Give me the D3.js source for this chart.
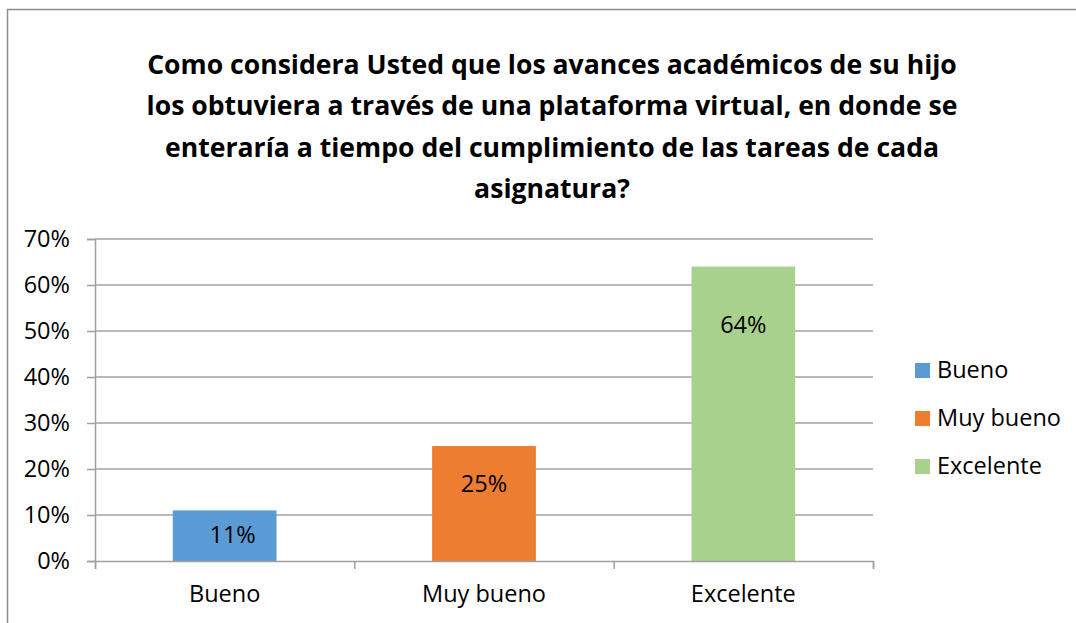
<!DOCTYPE html>
<html>
<head>
<meta charset="utf-8">
<script src="https://cdn.jsdelivr.net/npm/d3@7"></script>
<style>
  html, body { margin: 0; padding: 0; background: #fff; }
  text { font-family: "Open Sans", "DejaVu Sans", sans-serif; fill: #000; }
</style>
</head>
<body>
<div id="chart"></div>
<script>
"use strict";

var categories = ["Bueno", "Muy bueno", "Excelente"];
var values = [0.11, 0.25, 0.64];
var colors = ["#5B9BD5", "#ED7D31", "#A9D18E"];
var yTicks = [0, 0.1, 0.2, 0.3, 0.4, 0.5, 0.6, 0.7];
var labelAt = [0.058, 0.168, 0.515];   // where Excel left the data labels
var titleLines = [
    "Como considera Usted que los avances académicos de su hijo",
    "los obtuviera a través de una plataforma virtual, en donde se",
    "enteraría a tiempo del cumplimiento de las tareas de cada",
    "asignatura?"
];

var W = 1076, H = 623;
var margin = {top: 239, right: 203, bottom: 62, left: 95};
var width = W - margin.left - margin.right,
    height = H - margin.top - margin.bottom;
var fs = 23.5;

var svg = d3.select("#chart")
    .append("svg")
    .attr("width", W)
    .attr("height", H);

svg.append("rect")
    .attr("width", W).attr("height", H)
    .attr("fill", "#fff");

// chart frame (only top/left visible)
svg.append("rect")
    .attr("x", 7.5).attr("y", 9.5)
    .attr("width", W + 20).attr("height", H + 20)
    .attr("fill", "none")
    .attr("stroke", "#8c8c8c")
    .attr("stroke-width", 1.5);

svg.append("text")
    .attr("text-anchor", "middle")
    .attr("font-weight", "bold")
    .attr("font-size", 26.6)
    .selectAll("tspan")
    .data(titleLines)
    .enter()
    .append("tspan")
    .attr("x", 552)
    .attr("y", (d, i) => 74 + i * 41.3)
    .text(d => d);

var g = svg.append("g")
    .attr("transform", "translate(" + margin.left + "," + margin.top + ")");

var x = d3.scaleBand()
    .domain(categories)
    .range([0, width])
    .paddingInner(0.6)
    .paddingOuter(0.3);

var y = d3.scaleLinear()
    .domain([0, 0.7])
    .range([height, 0]);

// gridlines
g.append("g")
    .selectAll("line")
    .data(yTicks.slice(1))
    .enter()
    .append("line")
    .attr("x1", 0).attr("x2", width)
    .attr("y1", d => y(d)).attr("y2", d => y(d))
    .attr("stroke", "#a0a0a0")
    .attr("stroke-width", 1.5);

var yAxis = g.append("g")
    .call(d3.axisLeft(y)
        .tickValues(yTicks)
        .tickFormat(d3.format(".0%"))
        .tickSize(8)
        .tickPadding(17));
yAxis.select(".domain").attr("stroke", "#a0a0a0").attr("stroke-width", 1.5);
yAxis.selectAll(".tick line").attr("stroke", "#a0a0a0").attr("stroke-width", 1.5);
yAxis.selectAll(".tick text")
    .attr("font-size", fs)
    .attr("font-family", null)
    .attr("fill", "#000");

g.selectAll(".bar")
    .data(values)
    .enter()
    .append("rect")
    .attr("class", "bar")
    .attr("x", (d, i) => x(categories[i]))
    .attr("y", d => y(d))
    .attr("width", x.bandwidth())
    .attr("height", d => height - y(d))
    .attr("fill", (d, i) => colors[i]);

g.selectAll(".lbl")
    .data(values)
    .enter()
    .append("text")
    .attr("class", "lbl")
    .attr("x", (d, i) => x(categories[i]) + x.bandwidth() / 2 + (i === 0 ? 8 : 0))
    .attr("y", (d, i) => y(labelAt[i]))
    .attr("dy", "0.36em")
    .attr("text-anchor", "middle")
    .attr("font-size", fs)
    .text(d => d3.format(".0%")(d));

// x axis: ticks sit between categories
var xb = d3.scaleLinear().domain([0, categories.length]).range([0, width]);
var xAxis = g.append("g")
    .attr("transform", "translate(0," + height + ")")
    .call(d3.axisBottom(xb).ticks(categories.length).tickSize(8).tickFormat(""));
xAxis.select(".domain").attr("stroke", "#a0a0a0").attr("stroke-width", 1.5);
xAxis.selectAll(".tick line").attr("stroke", "#a0a0a0").attr("stroke-width", 1.5);

g.append("g")
    .selectAll("text")
    .data(categories)
    .enter()
    .append("text")
    .attr("x", d => x(d) + x.bandwidth() / 2)
    .attr("y", height + 41)
    .attr("text-anchor", "middle")
    .attr("font-size", fs)
    .text(d => d);

// legend
var legend = svg.append("g")
    .attr("transform", "translate(915,363)");
var item = legend.selectAll("g")
    .data(categories)
    .enter()
    .append("g")
    .attr("transform", (d, i) => "translate(0," + i * 48 + ")");
item.append("rect")
    .attr("width", 15).attr("height", 15)
    .attr("fill", (d, i) => colors[i]);
item.append("text")
    .attr("x", 22)
    .attr("y", 15)
    .attr("font-size", fs)
    .text(d => d);
</script>
</body>
</html>
